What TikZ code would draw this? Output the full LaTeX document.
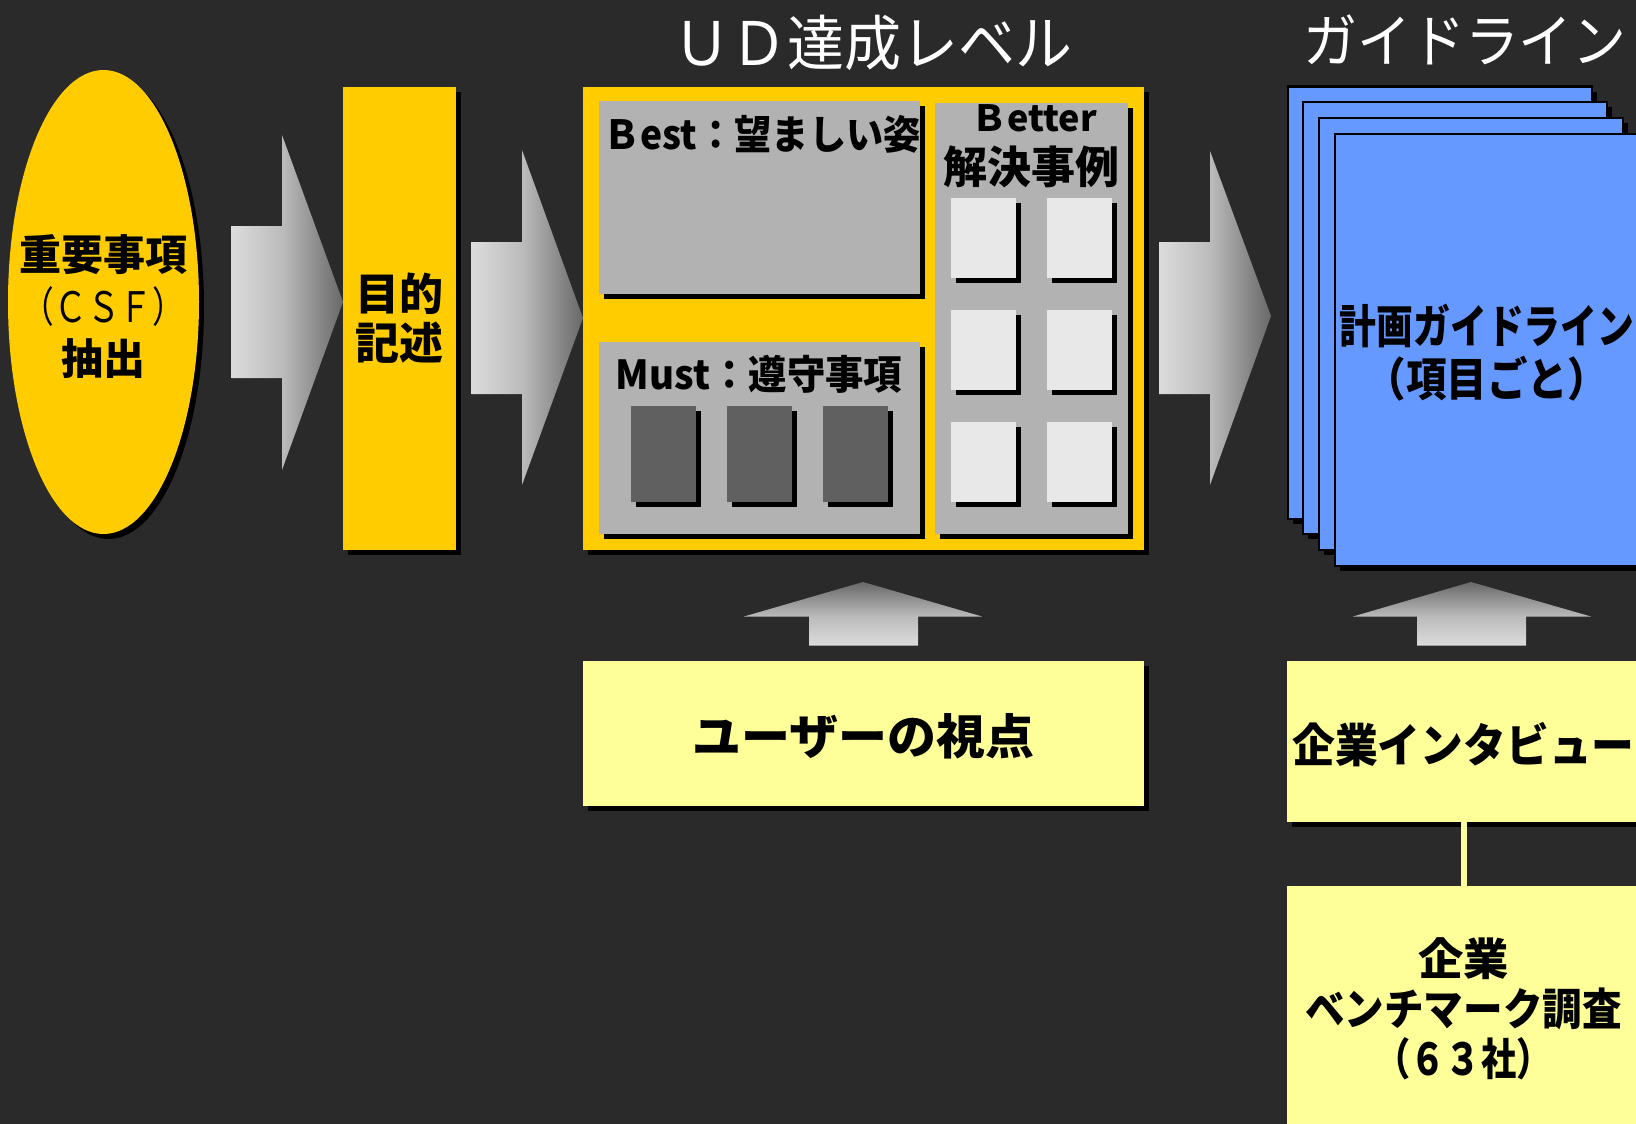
\documentclass[tikz,border=0pt]{standalone}
\usepackage{fontspec}
\usepackage{graphicx}
\setmainfont{Noto Sans CJK JP}
\usetikzlibrary{shapes.geometric,shadows}
\definecolor{bg}{HTML}{2A2A2A}
\definecolor{gold}{HTML}{FFCC00}
\definecolor{panel}{HTML}{B2B2B2}
\definecolor{darksq}{HTML}{606060}
\definecolor{lightsq}{HTML}{E8E8E8}
\definecolor{pageblue}{HTML}{6699FF}
\definecolor{cream}{HTML}{FFFF99}
\definecolor{arrlight}{HTML}{DCDCDC}
\definecolor{arrmid}{HTML}{BBBBBB}
\definecolor{arrdark}{HTML}{686868}
\pgfdeclarehorizontalshading{rightarrowshade}{100bp}{color(0bp)=(arrlight); color(25bp)=(arrlight); color(48bp)=(arrmid); color(75bp)=(arrdark); color(100bp)=(arrdark)}
\pgfdeclareverticalshading{uparrowshade}{100bp}{color(0bp)=(arrlight); color(25bp)=(arrlight); color(48bp)=(arrmid); color(75bp)=(arrdark); color(100bp)=(arrdark)}
\newcommand\sx[2]{\scalebox{#1}[1]{#2}}
\begin{document}
\begin{tikzpicture}[x=1pt,y=-1pt,
  shadowed/.style={drop shadow={shadow xshift=5pt,shadow yshift=-5pt,opacity=1,fill=black}},
  box/.style={rectangle,inner sep=0pt,outer sep=0pt,shadowed},
  pagebox/.style={rectangle,inner sep=0pt,outer sep=0pt,fill=pageblue,draw=black,line width=2pt,
    minimum width=304,minimum height=432,shadowed},
  rarrow/.style={shading=rightarrowshade},
  uarrow/.style={shading=uparrowshade},
  title/.style={text=white,inner sep=0pt},
  lbl/.style={text=black,inner sep=0pt}]
\useasboundingbox (0,0) rectangle (1636,1124);
\fill[bg] (0,0) rectangle (1636,1124);
\clip (0,0) rectangle (1636,1124);

% block arrows
\shade[rarrow] (231.5,226) -- (282,226) -- (282,135) -- (343,302) -- (282,470) -- (282,378) -- (231.5,378) -- cycle;
\shade[rarrow] (471.5,242) -- (522,242) -- (522,150) -- (583,318) -- (522,485) -- (522,394) -- (471.5,394) -- cycle;
\shade[rarrow] (1159,242) -- (1210,242) -- (1210,151) -- (1271,316) -- (1210,485) -- (1210,394) -- (1159,394) -- cycle;
\shade[uarrow] (809,645.6) -- (809,616.5) -- (744,616.5) -- (863,582) -- (982,616.5) -- (918,616.5) -- (918,645.6) -- cycle;
\shade[uarrow] (1417,645.6) -- (1417,616.5) -- (1353,616.5) -- (1471,582) -- (1591,616.5) -- (1526,616.5) -- (1526,645.6) -- cycle;

% left column
\node[ellipse,fill=gold,minimum width=191,minimum height=464,inner sep=0pt,shadowed] (csf) at (103.5,302) {};
\node[lbl,align=center,font=\fontsize{42}{52}\selectfont\bfseries] (csftext) at ([yshift=-4pt]csf.center)
  {\sx{1.0}{重要事項}\\{\mdseries\sx{0.78}{（ＣＳＦ）}}\\\sx{1.0}{抽出}};
\node[box,fill=gold,minimum width=113,minimum height=463.5,align=center,
  font=\fontsize{44}{49}\selectfont\bfseries] (purpose) at (399.5,318.25) {目的\\記述};

% UD level block
\node[title,font=\fontsize{60}{60}\selectfont] (udtitle) at (873,43) {\sx{0.95}{ＵＤ達成レベル}};
\node[box,fill=gold,minimum width=560.6,minimum height=463.5] (ud) at (863.3,318.25) {};
\node[box,fill=panel,minimum width=321,minimum height=192.5] (best) at (759.5,197.25) {};
\node[box,fill=panel,minimum width=321,minimum height=192] (must) at (759.5,438) {};
\node[box,fill=panel,minimum width=192.5,minimum height=431.5] (better) at (1031.25,318.25) {};
\node[lbl,font=\fontsize{40}{40}\selectfont\bfseries] (bestlbl) at (762,134) {\sx{0.93}{Ｂest：望ましい姿}};
\node[lbl,font=\fontsize{40}{40}\selectfont\bfseries] (mustlbl) at (759,374) {\sx{0.96}{Must：遵守事項}};
\node[lbl,font=\fontsize{36}{36}\selectfont\bfseries] (betterlbl) at (1034,118) {Ｂetter};
\node[lbl,font=\fontsize{44}{44}\selectfont\bfseries] (kaiketsu) at (1031,167) {解決事例};
\foreach \x [count=\i] in {663.5,759.25,855.5}
  \node[box,fill=darksq,minimum width=65,minimum height=96] (m\i) at (\x,454) {};
\foreach \x/\y/\n in {983.5/238/b1,1079.5/238/b2,983.5/350/b3,1079.5/350/b4,983.5/462/b5,1079.5/462/b6}
  \node[box,fill=lightsq,minimum width=65,minimum height=80] (\n) at (\x,\y) {};

% guideline stack
\node[title,font=\fontsize{58}{58}\selectfont] (gltitle) at (1465,40) {\sx{0.93}{ガイドライン}};
\node[pagebox] (p1) at (1440,302.5) {};
\node[pagebox] (p2) at (1455,318) {};
\node[pagebox] (p3) at (1471,334) {};
\node[pagebox] (p4) at (1487,350) {};
\node[lbl,align=center,font=\fontsize{46}{53}\selectfont\bfseries] (p4text) at ([yshift=-3pt]p4.center)
  {\sx{0.8}{計画ガイドライン}\\\sx{0.88}{（項目ごと）}};

% inputs
\node[box,fill=cream,minimum width=561,minimum height=145] (user) at (863.5,733.5) {};
\node[lbl,font=\fontsize{48}{48}\selectfont\bfseries] (usertext) at ([yshift=-3pt]user.center) {\sx{1.02}{ユーザーの視点}};
\node[box,fill=cream,minimum width=353,minimum height=160.5] (iv) at (1463.5,741.25) {};
\node[lbl,font=\fontsize{46}{46}\selectfont\bfseries] (ivtext) at ([yshift=-3pt]iv.center) {\sx{0.93}{企業インタビュー}};
\node[box,fill=cream,minimum width=353,minimum height=247] (bm) at (1463.5,1009) {};
\node[lbl,align=center,font=\fontsize{44}{50}\selectfont\bfseries] (bmtext) at (bm.center)
  {\sx{1.03}{企業}\\\sx{0.9}{ベンチマーク調査}\\\sx{0.8}{（６３社）}};
\draw[cream,line width=6pt] (iv.south) -- (bm.north);
\end{tikzpicture}
\end{document}
